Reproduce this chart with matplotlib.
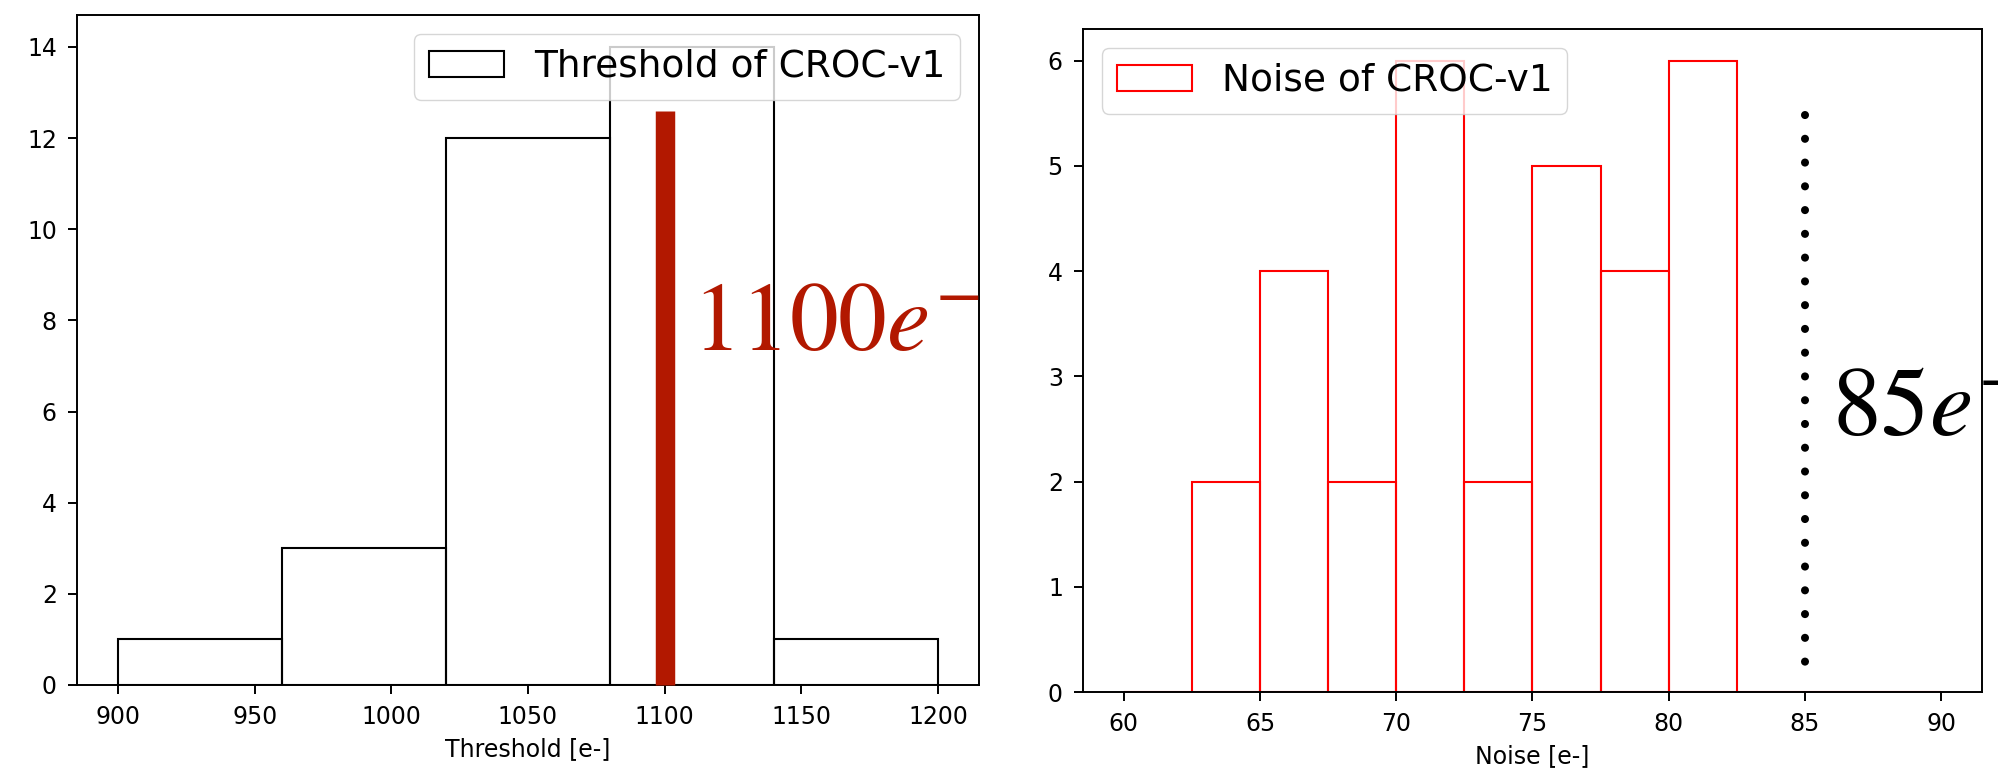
import matplotlib
matplotlib.use("Agg")
import matplotlib.pyplot as plt
import numpy as np

# Threshold distribution (counts per 60 e- bin)
threshold_edges = [900, 960, 1020, 1080, 1140, 1200]
threshold_counts = [1, 3, 12, 14, 1]
threshold_target = 1100
threshold_marker_top = 12.6

# Noise distribution (counts per 2.5 e- bin)
noise_edges = [60, 62.5, 65, 67.5, 70, 72.5, 75, 77.5, 80, 82.5, 85, 87.5, 90]
noise_counts = [0, 2, 4, 2, 6, 2, 5, 4, 6, 0, 0, 0]
noise_target = 85
noise_marker_range = [0.24, 5.48]

threshold_ticks = [900, 950, 1000, 1050, 1100, 1150, 1200]
noise_ticks = [60, 65, 70, 75, 80, 85, 90]

plt.rcParams.update({
    "font.family": "DejaVu Sans",
    "mathtext.fontset": "stix",
    "axes.linewidth": 1.4,
    "xtick.major.size": 6.5,
    "ytick.major.size": 6.5,
    "xtick.major.width": 1.4,
    "ytick.major.width": 1.4,
    "xtick.major.pad": 8,
    "ytick.major.pad": 8,
    "xtick.labelsize": 17,
    "ytick.labelsize": 17,
    "axes.labelsize": 17,
})

W, H = 1999, 771
fig = plt.figure(figsize=(W / 100, H / 100), dpi=100)


def px_axes(x0, x1, top, bottom):
    return fig.add_axes([x0 / W, (H - bottom) / H, (x1 - x0) / W, (bottom - top) / H])


dark_red = "#B21800"

# Left panel: threshold
ax1 = px_axes(77, 979, 15, 685)
ax1.hist(threshold_edges[:-1], bins=threshold_edges, weights=threshold_counts,
         fill=False, edgecolor="black", linewidth=1.5, label="Threshold of CROC-v1")
ax1.set_xticks(threshold_ticks)
ax1.set_yticks(np.arange(0, 15, 2))
ax1.set_xlabel("Threshold [e-]", labelpad=6)
ax1.legend(loc="upper right", fontsize=27)
ax1.plot([threshold_target, threshold_target], [0, threshold_marker_top],
         color=dark_red, linewidth=14, solid_capstyle="butt", clip_on=False, zorder=5)
ax1.text(1110, 7.36, r"$%de^{-}$" % threshold_target, color=dark_red,
         fontsize=70, ha="left", va="baseline", zorder=6, clip_on=False)

# Right panel: noise
ax2 = px_axes(1083, 1982, 29, 692)
ax2.hist(noise_edges[:-1], bins=noise_edges, weights=noise_counts,
         fill=False, edgecolor="red", linewidth=1.5, label="Noise of CROC-v1")
ax2.set_xticks(noise_ticks)
ax2.set_yticks(np.arange(0, 7, 1))
ax2.set_xlabel("Noise [e-]", labelpad=6)
ax2.legend(loc="upper left", fontsize=27)
ax2.plot([noise_target, noise_target], [noise_marker_range[1], noise_marker_range[0]],
         color="black", linewidth=5.8, linestyle=(0, (0.01, 2.94)),
         dash_capstyle="round", zorder=5)
ax2.text(86.0, 2.445, r"$%de^{-}$" % noise_target, color="black",
         fontsize=70, ha="left", va="baseline", zorder=6, clip_on=False)

fig.savefig("out.png", dpi=100)
